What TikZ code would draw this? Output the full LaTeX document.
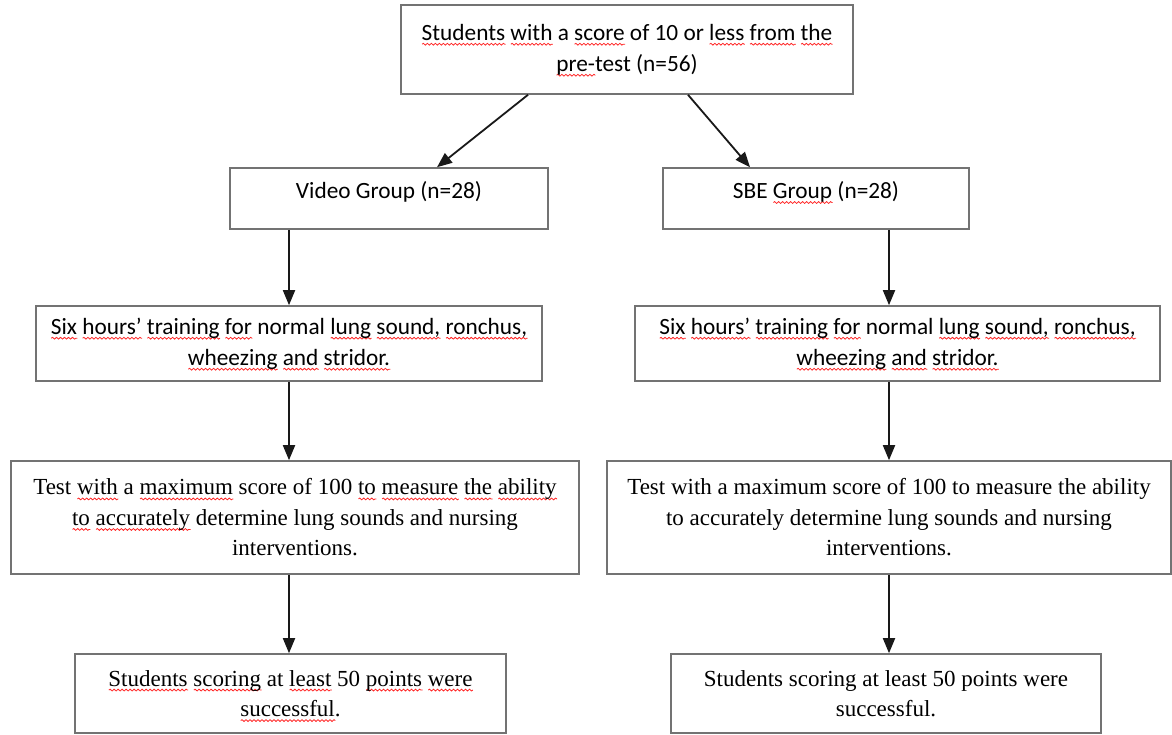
\documentclass[tikz,border=0pt]{standalone}
\usepackage{fontspec}
\setmainfont{Liberation Serif}
\newfontfamily\calibri{Carlito}
\usetikzlibrary{arrows.meta,decorations.pathmorphing}
\newsavebox\sqbox
\newcommand\redsq[1]{\sbox\sqbox{#1}\leavevmode\rlap{\smash{\tikz[baseline=0pt]\draw[red!85,line width=0.8pt,decorate,decoration={snake,amplitude=0.9pt,segment length=4pt}] (0pt,-4pt) -- (\wd\sqbox,-4pt);}}\usebox\sqbox}

\begin{document}
\begin{tikzpicture}[>={Triangle[length=15pt,width=12pt]},x=1pt,y=-1pt,
	box/.style={draw=black!55,line width=1.6pt,align=center,inner sep=0pt},
	cal/.style={font=\calibri\fontsize{23.3}{31}\selectfont},
	tms/.style={font=\fontsize{23}{30.5}\selectfont},
	link/.style={line width=1.8pt,black!90}]

\useasboundingbox (0,0) rectangle (1172,735);
\fill[white] (0,0) rectangle (1172,735);

\node[box,cal,minimum width=452pt,minimum height=89pt] (pre) at (627,49.5)
	{\redsq{Students} \redsq{with} a \redsq{score} of 10 or \redsq{less} \redsq{from} \redsq{the}\\\redsq{pre-}test (n=56)};

\node[box,cal,minimum width=318pt,minimum height=61pt,text depth=17pt] (vid) at (389,198.5) {Video Group (n=28)};
	\node[box,cal,minimum width=306pt,minimum height=61pt,text depth=17pt] (sbe) at (816,198.5) {SBE \redsq{Group} (n=28)};

\node[box,cal,minimum width=506pt,minimum height=75pt] (sixL) at (289,343.5)
	{\redsq{Six} \redsq{hours’} \redsq{training} \redsq{for} normal \redsq{lung} \redsq{sound,} \redsq{ronchus,}\\\redsq{wheezing} \redsq{and} \redsq{stridor.}};
\node[box,cal,minimum width=525pt,minimum height=75pt] (sixR) at (897.5,343.5)
	{\redsq{Six} \redsq{hours’} \redsq{training} \redsq{for} normal \redsq{lung} \redsq{sound,} \redsq{ronchus,}\\\redsq{wheezing} \redsq{and} \redsq{stridor.}};

\node[box,tms,minimum width=568pt,minimum height=113pt] (testL) at (295,517.5)
	{Test \redsq{with} a \redsq{maximum} score of 100 \redsq{to} \redsq{measure} \redsq{the} \redsq{ability}\\\redsq{to} \redsq{accurately} determine lung sounds and nursing\\interventions.};
  \node[box,tms,minimum width=564pt,minimum height=113pt] (testR) at (889,517.5)
	{Test with a maximum score of 100 to measure the ability\\to accurately determine lung sounds and nursing\\interventions.};

\node[box,tms,minimum width=431pt,minimum height=79pt] (studL) at (290.5,693.5)
	{\redsq{Students} \redsq{scoring} at \redsq{least} 50 \redsq{points} \redsq{were}\\\redsq{successful}.};
\node[box,tms,minimum width=430pt,minimum height=79pt] (studR) at (886,693.5)
	{Students scoring at least 50 points were\\successful.};

\path[->,link] ([xshift=-99pt]pre.south) edge ([xshift=48pt]vid.north)
		([xshift=61pt]pre.south) edge ([xshift=-66pt]sbe.north)
	(vid.south -| sixL.north) edge (sixL.north)
		(sixL.south) edge (sixL.south |- testL.north)
		(testL.south -| sixL.south) edge (sixL.south |- studL.north)
	(sbe.south -| testR.north) edge (sixR.north -| testR.north)
		(sixR.south -| testR.north) edge (testR.north)
		(testR.south) edge (testR.south |- studR.north);

\end{tikzpicture}
\end{document}
